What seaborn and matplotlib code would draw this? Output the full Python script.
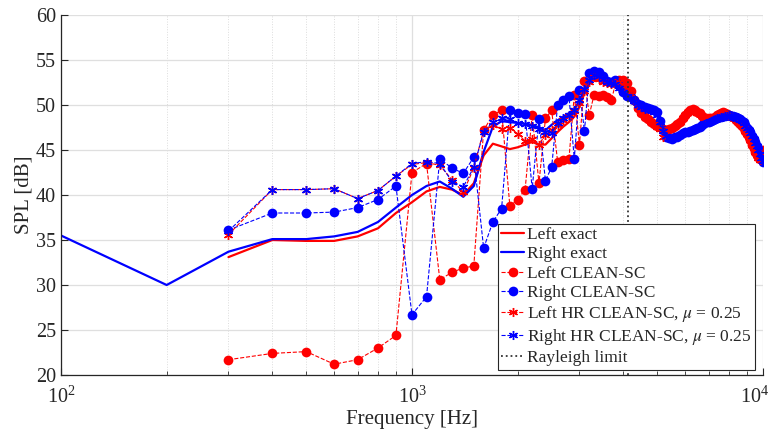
import numpy as np
import pandas as pd
import matplotlib
matplotlib.use("Agg")
import matplotlib.pyplot as plt
import matplotlib.ticker as mticker
import matplotlib.transforms as mtransforms
import seaborn as sns

# frequencies [Hz]
freq_exact_right = list(range(100, 10001, 100))
freq = list(range(300, 10001, 100))
rayleigh_limit = 4120

left_exact = [
    33.1, 35.0, 34.9, 34.9, 35.4, 36.3, 38.0, 39.2,
    40.4, 40.9, 40.6, 40.0, 41.3, 44.4, 45.7, 45.4, 45.1, 45.3,
    45.6, 45.9, 45.6, 45.6, 46.3, 47.0, 47.6, 48.1, 48.7, 49.8,
    51.3, 52.4, 52.8, 52.7, 52.5, 52.3, 52.3, 52.5, 52.6, 52.4,
    51.9, 51.2, 50.5, 49.8, 49.2, 48.8, 48.5, 48.2, 48.0, 47.8,
    47.6, 47.3, 47.2, 47.3, 47.5, 47.7, 47.9, 48.1, 48.5, 48.9,
    49.2, 49.3, 49.4, 49.3, 49.1, 49.0, 48.8, 48.6, 48.5, 48.5,
    48.5, 48.6, 48.7, 48.8, 48.9, 49.0, 49.1, 49.0, 48.9, 48.8,
    48.7, 48.6, 48.5, 48.3, 48.1, 47.9, 47.7, 47.4, 47.1, 46.8,
    46.5, 46.1, 45.6, 45.2, 44.8, 44.4, 44.2, 44.0, 44.4, 44.8,
]
right_exact = [
    35.5, 30.0, 33.7, 35.1, 35.1, 35.4, 35.9, 37.0, 38.6, 40.0,
    41.0, 41.5, 40.7, 39.8, 41.0, 44.8, 47.6, 48.2, 48.1, 48.0,
    47.9, 47.8, 47.5, 47.2, 47.8, 48.3, 48.7, 49.1, 49.5, 50.5,
    51.6, 52.5, 53.0, 52.9, 52.6, 52.3, 52.2, 52.0, 51.6, 51.2,
    50.9, 50.7, 50.3, 50.0, 49.8, 49.6, 49.5, 49.4, 49.2, 48.8,
    48.0, 47.0, 46.5, 46.3, 46.3, 46.4, 46.6, 46.7, 46.9, 47.0,
    47.0, 47.1, 47.2, 47.3, 47.4, 47.6, 47.8, 47.9, 48.0, 48.1,
    48.2, 48.3, 48.4, 48.5, 48.6, 48.7, 48.7, 48.8, 48.8, 48.8,
    48.8, 48.7, 48.7, 48.6, 48.5, 48.3, 48.2, 48.0, 47.7, 47.4,
    47.2, 46.9, 46.6, 46.2, 45.8, 45.4, 45.0, 44.6, 44.1, 43.7,
]
left_clean = [
    21.7, 22.4, 22.6, 21.2, 21.7, 23.0, 24.4, 42.5,
    43.5, 30.6, 31.4, 31.9, 32.1, 47.2, 48.9, 49.4, 38.8, 39.5,
    40.6, 48.9, 41.3, 48.5, 49.4, 43.7, 43.9, 44.0, 51.1, 45.6,
    52.7, 48.9, 51.1, 51.0, 51.1, 50.9, 50.5, 52.4, 52.8, 52.8,
    52.4, 51.6, 50.6, 49.7, 49.1, 48.7, 48.4, 48.1, 47.9, 47.7,
    47.6, 47.3, 47.2, 47.3, 47.5, 47.7, 47.9, 48.1, 48.5, 48.9,
    49.2, 49.4, 49.5, 49.4, 49.2, 49.1, 48.8, 48.6, 48.5, 48.5,
    48.5, 48.6, 48.7, 48.9, 49.0, 49.1, 49.2, 49.1, 49.0, 48.9,
    48.8, 48.7, 48.5, 48.3, 48.1, 47.9, 47.7, 47.4, 47.1, 46.8,
    46.5, 46.1, 45.6, 45.2, 44.8, 44.4, 44.2, 44.0, 44.5, 45.0,
]
right_clean = [
    36.1, 38.0, 38.0, 38.1, 38.6, 39.5, 41.0, 26.7,
    28.7, 44.0, 43.0, 42.4, 44.2, 34.1, 37.0, 38.5, 49.4, 49.1,
    49.0, 40.7, 48.4, 41.6, 43.1, 50.0, 50.6, 51.0, 44.0, 51.7,
    47.1, 53.5, 53.8, 53.7, 53.2, 52.7, 52.6, 52.8, 52.2, 51.4,
    51.0, 50.9, 50.5, 50.1, 50.0, 49.8, 49.7, 49.5, 49.4, 49.2,
    48.2, 47.2, 46.5, 46.3, 46.2, 46.4, 46.5, 46.7, 46.9, 47.0,
    47.0, 47.1, 47.2, 47.3, 47.5, 47.6, 47.8, 48.0, 48.1, 48.1,
    48.2, 48.3, 48.4, 48.5, 48.7, 48.7, 48.8, 48.8, 48.9, 48.9,
    48.8, 48.8, 48.7, 48.7, 48.6, 48.4, 48.2, 48.1, 47.8, 47.5,
    47.2, 47.0, 46.6, 46.2, 45.9, 45.5, 45.1, 44.6, 44.0, 43.7,
]
left_hr = [
    35.6, 40.6, 40.6, 40.7, 39.6, 40.5, 42.1, 43.4,
    43.6, 43.3, 41.7, 40.3, 43.0, 47.2, 47.8, 47.3, 47.5, 46.8,
    46.0, 46.2, 45.6, 46.7, 47.2, 47.8, 48.3, 48.8, 49.3, 50.2,
    51.6, 52.5, 53.1, 52.9, 52.6, 52.4, 52.3, 52.4, 52.5, 52.2,
    51.8, 51.2, 50.4, 49.7, 49.1, 48.7, 48.4, 48.1, 47.9, 47.6,
    47.3, 46.5, 47.1, 47.3, 47.5, 47.7, 47.9, 48.1, 48.5, 48.9,
    49.2, 49.3, 49.4, 49.3, 49.1, 49.0, 48.8, 48.6, 48.5, 48.5,
    48.5, 48.6, 48.7, 48.8, 48.9, 49.0, 49.1, 49.0, 48.9, 48.8,
    48.7, 48.6, 48.5, 48.3, 48.1, 47.9, 47.7, 47.4, 47.1, 46.8,
    46.5, 46.1, 45.6, 45.2, 44.8, 44.4, 44.1, 43.9, 44.3, 44.8,
]
right_hr = [
    36.0, 40.6, 40.6, 40.7, 39.6, 40.5, 42.1, 43.5,
    43.7, 43.5, 41.5, 40.9, 43.1, 47.0, 48.1, 48.5, 48.4, 48.0,
    47.9, 47.7, 47.3, 47.0, 46.9, 48.0, 48.5, 48.9, 49.4, 50.6,
    51.8, 52.8, 53.3, 53.2, 52.9, 52.5, 52.4, 52.3, 51.9, 51.4,
    51.0, 50.8, 50.4, 50.0, 49.8, 49.6, 49.5, 49.4, 49.2, 48.9,
    48.1, 47.1, 46.6, 46.3, 46.3, 46.4, 46.6, 46.7, 46.9, 47.0,
    47.0, 47.1, 47.2, 47.3, 47.4, 47.6, 47.8, 47.9, 48.0, 48.1,
    48.2, 48.3, 48.4, 48.5, 48.6, 48.7, 48.7, 48.8, 48.8, 48.8,
    48.8, 48.7, 48.7, 48.6, 48.5, 48.3, 48.2, 48.0, 47.7, 47.4,
    47.2, 46.9, 46.6, 46.2, 45.8, 45.4, 45.0, 44.6, 44.1, 43.8,
]

sns.set_style("ticks")
plt.rcParams['font.family'] = ['Liberation Serif', 'DejaVu Serif']
plt.rcParams['mathtext.fontset'] = 'stix'

fig = plt.figure(figsize=(7.75, 4.36), dpi=100)
ax = fig.add_axes([0.0787, 0.1399, 0.9058, 0.8257])
ax.set_xscale('log')

red = '#ff0000'
blue = '#0000ff'
asterisk = (6, 2, 0)

series = [
    ('Left exact', freq, left_exact),
    ('Right exact', freq_exact_right, right_exact),
    ('Left CLEAN-SC', freq, left_clean),
    ('Right CLEAN-SC', freq, right_clean),
    (r'Left HR CLEAN-SC, $\mu$ = 0.25', freq, left_hr),
    (r'Right HR CLEAN-SC, $\mu$ = 0.25', freq, right_hr),
]
# seaborn gives markers a white edge by default, so set edge colours explicitly
styles = [
    dict(color=red, lw=1.6),
    dict(color=blue, lw=1.6),
    dict(color=red, lw=0.8, linestyle='--', marker='o', markersize=7,
         markeredgewidth=0, markeredgecolor=red),
    dict(color=blue, lw=0.8, linestyle='--', marker='o', markersize=7,
         markeredgewidth=0, markeredgecolor=blue),
    dict(color=red, lw=0.8, linestyle='--', marker=asterisk, markersize=6.5,
         markeredgewidth=1.0, markeredgecolor=red),
    dict(color=blue, lw=0.8, linestyle='--', marker=asterisk, markersize=6.5,
         markeredgewidth=1.0, markeredgecolor=blue),
]
for (name, f, spl), st in zip(series, styles):
    df = pd.DataFrame({'freq': np.asarray(f, dtype=float), 'spl': np.asarray(spl, dtype=float)})
    sns.lineplot(data=df, x='freq', y='spl', ax=ax, label=name,
                 estimator=None, errorbar=None, sort=False, **st)
ax.axvline(rayleigh_limit, color='#333333', lw=1.3, linestyle=':', label='Rayleigh limit')

ax.set_xlim(100, 10000)
ax.set_ylim(20, 60)
ax.set_yticks(range(20, 61, 5))
ax.set_xticks([100, 1000, 10000])
ax.xaxis.set_major_formatter(mticker.LogFormatterSciNotation())
ax.xaxis.set_minor_locator(mticker.LogLocator(base=10, subs=np.arange(2, 10)))
ax.xaxis.set_minor_formatter(mticker.NullFormatter())

ax.grid(True, which='major', color='#dfdfdf', lw=0.9, linestyle='-')
ax.grid(True, which='minor', axis='x', color='#dcdcdc', lw=0.7, linestyle=':')
ax.set_axisbelow(True)

for side in ['top', 'right']:
    ax.spines[side].set_visible(False)
for side in ['left', 'bottom']:
    ax.spines[side].set_color('#262626')
    ax.spines[side].set_linewidth(0.9)
ax.tick_params(which='both', direction='in', colors='#262626', labelsize=14.5)
ax.tick_params(which='major', length=5)
ax.tick_params(which='minor', length=3)
ax.tick_params(axis='x', pad=8)
ax.set_xlabel('Frequency [Hz]', fontsize=15, color='#262626', labelpad=2)
ax.set_ylabel('SPL [dB]', fontsize=15, color='#262626', labelpad=2)

leg = ax.legend(loc='lower right', bbox_to_anchor=(0.989, 0.014), borderaxespad=0,
                fontsize=12.5, handlelength=1.3, handletextpad=0.2, labelspacing=0.18,
                borderpad=0.2, fancybox=False, framealpha=1, edgecolor='#262626')
leg.get_frame().set_linewidth(0.8)

# nudge the 10^4 label left so it stays inside the figure
last = ax.xaxis.get_major_ticks()[-1].label1
last.set_transform(last.get_transform() +
                   mtransforms.ScaledTranslation(-6 / 72, 0, fig.dpi_scale_trans))

fig.savefig('out.png', dpi=100)
